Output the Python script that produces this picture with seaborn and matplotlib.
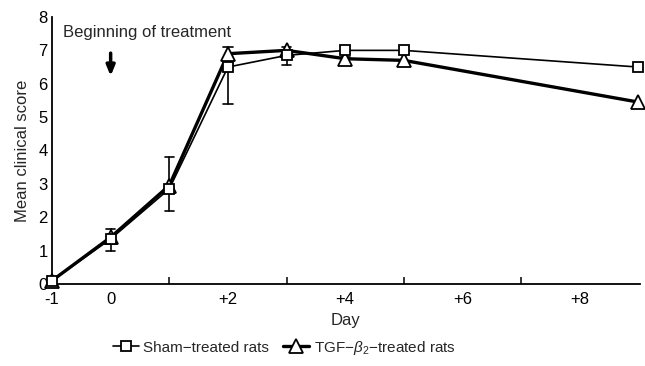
import numpy as np
import pandas as pd
import matplotlib
matplotlib.use("Agg")
import matplotlib.pyplot as plt
import seaborn as sns

days = [-1, 0, 1, 2, 3, 4, 5, 9]
sham = [0.1, 1.35, 2.85, 6.5, 6.85, 7.0, 7.0, 6.5]
tgf = [0.1, 1.4, 2.95, 6.9, 7.0, 6.75, 6.7, 5.45]
err_days = [0, 1, 2, 3, 4]
err_low = [1.0, 2.2, 5.4, 6.55, 6.55]
err_high = [1.65, 3.8, 7.1, 7.1, 6.8]
xtick_pos = [-1, 0, 2, 4, 6, 8]
xtick_labels = ["-1", "0", "+2", "+4", "+6", "+8"]
sham_label = "Sham\u2212treated rats"
tgf_label = "TGF\u2212$\\beta_2$\u2212treated rats"

sns.set_style("white")
plt.rcParams['font.family'] = ['Liberation Sans', 'DejaVu Sans']
plt.rcParams['mathtext.fontset'] = 'custom'
plt.rcParams['mathtext.it'] = 'Liberation Sans:italic'
plt.rcParams['mathtext.rm'] = 'Liberation Sans'

fig = plt.figure(figsize=(6.45, 3.66), dpi=100)
ax = fig.add_axes([52/645, 1-284/366, (637-52)/645 + 0.004, (284-17)/366])

# error bars
for d, lo, hi in zip(err_days, err_low, err_high):
    ax.plot([d, d], [lo, hi], color='black', lw=1.2, zorder=1)
    ax.plot([d-0.08, d+0.08], [lo, lo], color='black', lw=1.2, zorder=1)
    ax.plot([d-0.08, d+0.08], [hi, hi], color='black', lw=1.2, zorder=1)

df_s = pd.DataFrame({"day": days, "score": sham})
df_t = pd.DataFrame({"day": days, "score": tgf})
sns.lineplot(data=df_s, x="day", y="score", ax=ax, color='black', lw=1.2,
             marker='s', markersize=7.5, markerfacecolor='white', markeredgecolor='black',
             markeredgewidth=1.3, label=sham_label, zorder=3, clip_on=False)
sns.lineplot(data=df_t, x="day", y="score", ax=ax, color='black', lw=2.4,
             marker='^', markersize=10, markerfacecolor='white', markeredgecolor='black',
             markeredgewidth=1.3, label=tgf_label, zorder=2, clip_on=False)

ax.set_xlim(-1, 9.02)
ax.set_ylim(0, 8)
ax.set_xticks(xtick_pos)
ax.set_xticklabels(xtick_labels)
ax.set_xticks([1, 3, 5, 7], minor=True)
ax.set_yticks(range(0, 9))
ax.tick_params(axis='both', which='major', direction='in', length=8, width=1.3,
               labelsize=12, colors='black', pad=6)
ax.tick_params(axis='x', which='minor', direction='in', length=5, width=1.3, bottom=True)
ax.tick_params(axis='y', pad=3)
for s in ['top', 'right']:
    ax.spines[s].set_visible(False)
for s in ['left', 'bottom']:
    ax.spines[s].set_color('black')
    ax.spines[s].set_linewidth(1.3)
ax.set_xlabel("Day", fontsize=12, labelpad=4)
ax.set_ylabel("Mean clinical score", fontsize=12, labelpad=6)

ax.text(-0.82, 7.55, "Beginning of treatment", fontsize=12, ha='left', va='center')
ax.annotate("", xy=(0, 6.15), xytext=(0, 7.0),
            arrowprops=dict(arrowstyle='-|>,head_length=0.6,head_width=0.25', color='black', lw=2.5))

ax.legend(loc='upper center', bbox_to_anchor=(0.395, -0.165), ncol=2, frameon=False,
          fontsize=11, handlelength=1.7, columnspacing=0.9, handletextpad=0.3,
          borderpad=0.2)

fig.savefig("out.png", dpi=100)
